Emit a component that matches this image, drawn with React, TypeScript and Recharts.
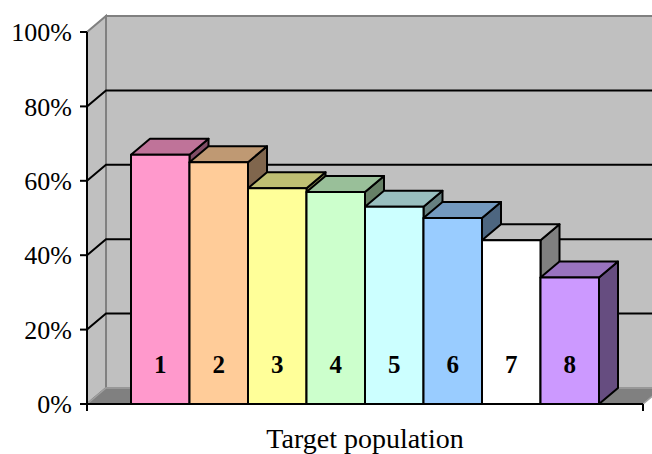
import { BarChart, Bar, XAxis, YAxis, ReferenceArea, ReferenceLine, LabelList } from "recharts";

const categories = ["Target population"];
const seriesNames = ["1", "2", "3", "4", "5", "6", "7", "8"];
const seriesValues = [0.67, 0.65, 0.58, 0.57, 0.53, 0.5, 0.44, 0.34];
const seriesColors = ["#FF99CC", "#FFCC99", "#FFFF99", "#CCFFCC", "#CCFFFF", "#99CCFF", "#FFFFFF", "#CC99FF"];
const yTicks = [0, 0.2, 0.4, 0.6, 0.8, 1];
const gridValues = [0.2, 0.4, 0.6, 0.8];

const data = categories.map((name) => {
  const row: Record<string, string | number> = { name };
  seriesNames.forEach((s, i) => {
    row[`s${s}`] = seriesValues[i];
  });
  return row;
});

// oblique depth of the 3D box
const DX = 19;
const DY = -16;
const FONT = '"Times New Roman", "Liberation Serif", serif';

function shade(hex: string, k: number) {
  const n = parseInt(hex.slice(1), 16);
  const r = Math.round(((n >> 16) & 255) * k);
  const g = Math.round(((n >> 8) & 255) * k);
  const b = Math.round((n & 255) * k);
  return `rgb(${r},${g},${b})`;
}

const pts = (p: number[][]) => p.map((q) => q.join(",")).join(" ");

// back wall, side wall and floor around the plot area
function Walls(props: any) {
  const { x, y, width: w, height: h } = props;
  const b = y + h;
  return (
    <g>
      <polygon points={pts([[x, y], [x + DX, y + DY], [x + DX, b + DY], [x, b]])} fill="#C0C0C0" stroke="#808080" strokeWidth={2} />
      <rect x={x + DX} y={y + DY} width={w} height={h} fill="#C0C0C0" stroke="#808080" strokeWidth={2} />
      <polygon points={pts([[x, b], [x + DX, b + DY], [x + w + DX, b + DY], [x + w, b]])} fill="#808080" stroke="#A0A0A0" strokeWidth={1.5} />
      <line x1={x} y1={b} x2={x} y2={b + 7} stroke="#000" strokeWidth={2} />
      <line x1={x + w} y1={b} x2={x + w} y2={b + 7} stroke="#000" strokeWidth={2} />
    </g>
  );
}

// gridline running up the side wall and across the back wall
function GridLine3D(props: any) {
  const { x1, y1, x2, y2 } = props;
  return (
    <path
      d={`M${x1},${y1} L${x1 + DX},${y1 + DY} L${x2 + DX},${y2 + DY}`}
      fill="none"
      stroke="#000"
      strokeWidth={2}
    />
  );
}

function makeBox(color: string) {
  return (props: any) => {
    const { x, y, width: w, height: h } = props;
    if (w == null || h == null) return <g />;
    return (
      <g stroke="#000" strokeWidth={2} strokeLinejoin="round">
        <polygon points={pts([[x + w, y], [x + w + DX, y + DY], [x + w + DX, y + h + DY], [x + w, y + h]])} fill={shade(color, 0.5)} />
        <polygon points={pts([[x, y], [x + DX, y + DY], [x + w + DX, y + DY], [x + w, y]])} fill={shade(color, 0.75)} />
        <rect x={x} y={y} width={w} height={h} fill={color} />
      </g>
    );
  };
}

export default function App() {
  return (
    <div style={{ width: 652, height: 454, background: "#fff" }}>
      <style>{`body{margin:0}`}</style>
      <BarChart
        width={652}
        height={454}
        data={data}
        margin={{ top: 32, right: 9, left: 0, bottom: 0 }}
        barGap={0}
        barCategoryGap={44}
      >
        <ReferenceArea y1={0} y2={1} shape={Walls} zIndex={-200} />
        {gridValues.map((v) => (
          <ReferenceLine key={v} y={v} shape={GridLine3D} zIndex={-150} />
        ))}
        <XAxis
          dataKey="name"
          height={50}
          tickLine={false}
          tickSize={0}
          tickMargin={24}
          axisLine={{ stroke: "#000", strokeWidth: 2 }}
          tick={{ fontSize: 28, fill: "#000", fontFamily: FONT }}
        />
        <YAxis
          width={87}
          domain={[0, 1]}
          ticks={yTicks}
          tickFormatter={(v: number) => `${Math.round(v * 100)}%`}
          tickSize={7}
          tickMargin={8}
          axisLine={{ stroke: "#000", strokeWidth: 2 }}
          tickLine={{ stroke: "#000", strokeWidth: 2 }}
          tick={{ fontSize: 26, fill: "#000", fontFamily: FONT }}
        />
        {seriesNames.map((s, i) => (
          <Bar
            key={s}
            dataKey={`s${s}`}
            fill={seriesColors[i]}
            barSize={58.5}
            shape={makeBox(seriesColors[i])}
            isAnimationActive={false}
          >
            <LabelList
              position="insideBottom"
              offset={31}
              formatter={() => s}
              fill="#000"
              fontSize={25}
              fontWeight="bold"
              fontFamily={FONT}
            />
          </Bar>
        ))}
      </BarChart>
    </div>
  );
}
